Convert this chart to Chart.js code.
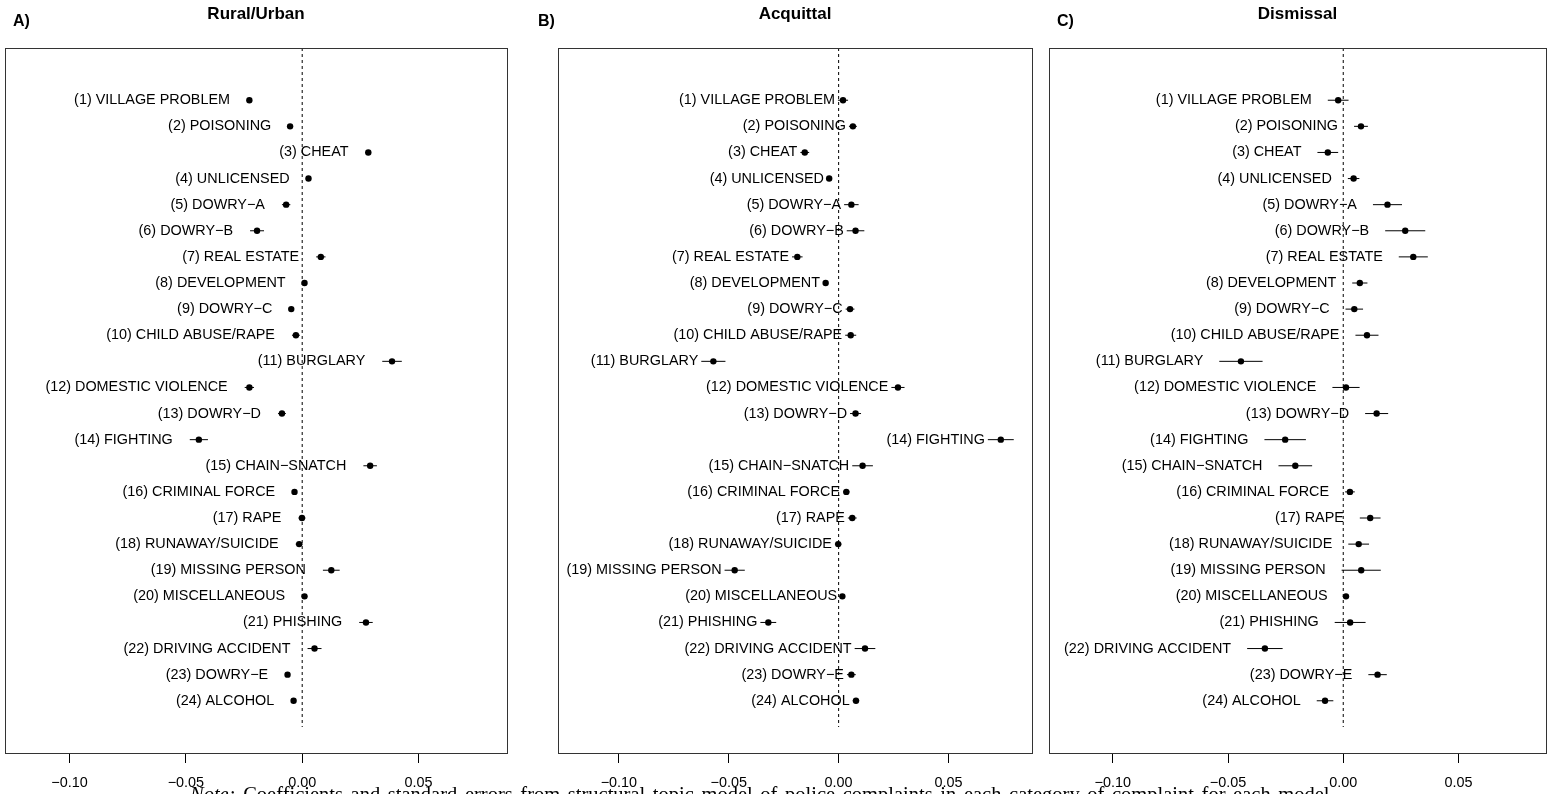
<!DOCTYPE html>
<html>
<head>
<meta charset="utf-8">
<script src="https://cdn.jsdelivr.net/npm/chart.js@4"></script>
<style>
    html, body { margin: 0; padding: 0; background: #fff; }
    body { width: 1557px; height: 794px; overflow: hidden; position: relative; }
    canvas { position: absolute; top: 0; }
    #note {
        position: absolute; left: 190px; top: 783px; white-space: nowrap;
        font-family: 'Liberation Serif', 'DejaVu Serif', serif; font-size: 20.5px; color: #000;
        word-spacing: 2.5px;
    }
</style>
</head>
<body>
<canvas id="panel-a" width="519" height="794" style="left:0px"></canvas>
<canvas id="panel-b" width="519" height="794" style="left:519px"></canvas>
<canvas id="panel-c" width="519" height="794" style="left:1038px"></canvas>
<div id="note"><i>Note:</i> Coefficients and standard errors from structural topic model of police complaints in each category of complaint for each model.</div>
<script>
// データ
const categories = [
    '(1) VILLAGE PROBLEM', '(2) POISONING', '(3) CHEAT', '(4) UNLICENSED',
    '(5) DOWRY\u2212A', '(6) DOWRY\u2212B', '(7) REAL ESTATE', '(8) DEVELOPMENT',
    '(9) DOWRY\u2212C', '(10) CHILD ABUSE/RAPE', '(11) BURGLARY', '(12) DOMESTIC VIOLENCE',
    '(13) DOWRY\u2212D', '(14) FIGHTING', '(15) CHAIN\u2212SNATCH', '(16) CRIMINAL FORCE',
    '(17) RAPE', '(18) RUNAWAY/SUICIDE', '(19) MISSING PERSON', '(20) MISCELLANEOUS',
    '(21) PHISHING', '(22) DRIVING ACCIDENT', '(23) DOWRY\u2212E', '(24) ALCOHOL'
];

// A) Rural/Urban
const ruralCoef = [-0.0227, -0.0052, 0.0284, 0.0027, -0.0069, -0.0194, 0.0080, 0.0010, -0.0047, -0.0027, 0.0386, -0.0227,
    -0.0087, -0.0444, 0.0292, -0.0033, -0.0001, -0.0013, 0.0125, 0.0010, 0.0274, 0.0053, -0.0063, -0.0037];
const ruralErr = [0.0010, 0.0008, 0.0012, 0.0008, 0.0018, 0.0030, 0.0020, 0.0008, 0.0008, 0.0017, 0.0042, 0.0020,
    0.0017, 0.0039, 0.0029, 0.0010, 0.0015, 0.0015, 0.0036, 0.0010, 0.0029, 0.0030, 0.0010, 0.0010];

// B) Acquittal
const acquittalCoef = [0.0020, 0.0065, -0.0154, -0.0043, 0.0058, 0.0077, -0.0188, -0.0059, 0.0052, 0.0055, -0.0570, 0.0270,
    0.0077, 0.0738, 0.0109, 0.0035, 0.0062, -0.0002, -0.0473, 0.0017, -0.0320, 0.0120, 0.0058, 0.0079];
const acquittalErr = [0.0023, 0.0018, 0.0020, 0.0010, 0.0033, 0.0040, 0.0024, 0.0012, 0.0020, 0.0025, 0.0055, 0.0030,
    0.0025, 0.0059, 0.0047, 0.0015, 0.0020, 0.0015, 0.0046, 0.0010, 0.0036, 0.0047, 0.0020, 0.0015];

// C) Dismissal
const dismissalCoef = [-0.0022, 0.0077, -0.0067, 0.0045, 0.0192, 0.0269, 0.0304, 0.0072, 0.0048, 0.0103, -0.0444, 0.0012,
    0.0145, -0.0252, -0.0208, 0.0029, 0.0117, 0.0067, 0.0078, 0.0012, 0.0030, -0.0340, 0.0149, -0.0079];
const dismissalErr = [0.0045, 0.0030, 0.0045, 0.0025, 0.0063, 0.0087, 0.0063, 0.0033, 0.0038, 0.0050, 0.0094, 0.0059,
    0.0050, 0.0090, 0.0073, 0.0021, 0.0045, 0.0045, 0.0085, 0.0010, 0.0067, 0.0077, 0.0040, 0.0036];

const xTicks = [-0.10, -0.05, 0.00, 0.05];
const xRange = [-0.1277, 0.088];
const yRange = [-1, 26];

const FONT = "'Liberation Sans', Arial, Helvetica, sans-serif";

// 初期化処理
document.addEventListener('DOMContentLoaded', () => {
    createPanel('panel-a', 'A)', 'Rural/Urban', ruralCoef, ruralErr, { left: 5, right: 12, letterX: 13, gap: 17 });
    createPanel('panel-b', 'B)', 'Acquittal', acquittalCoef, acquittalErr, { left: 39, right: 6, letterX: 19, gap: 3 });
    createPanel('panel-c', 'C)', 'Dismissal', dismissalCoef, dismissalErr, { left: 11, right: 11, letterX: 19, gap: 16 });
});

// 目盛りラベル (Rと同じマイナス記号)
function formatTick(value) {
    const s = Math.abs(value).toFixed(2);
    return value < -1e-9 ? '\u2212' + s : s;
}

// パネルの作成
function createPanel(canvasId, letter, title, coefs, errs, layout) {
    const points = coefs.map((c, i) => ({ x: c, y: i + 1 }));

    // エラーバー (nullで区切る)
    const bars = [];
    coefs.forEach((c, i) => {
        bars.push({ x: c - errs[i], y: i + 1 });
        bars.push({ x: c + errs[i], y: i + 1 });
        bars.push({ x: null, y: null });
    });

    // 枠・タイトル・ラベル
    const panelPlugin = {
        id: 'panelDecor',
        afterDatasetsDraw(chart) {
            const ctx = chart.ctx;
            const xs = chart.scales.x;
            const ys = chart.scales.y;
            ctx.save();
            ctx.fillStyle = '#000';
            ctx.font = '14.4px ' + FONT;
            ctx.textAlign = 'right';
            ctx.textBaseline = 'middle';
            categories.forEach((name, i) => {
                const px = xs.getPixelForValue(coefs[i] - errs[i]) - layout.gap;
                const py = ys.getPixelForValue(i + 1);
                ctx.fillText(name, px, py);
            });
            ctx.restore();
        },
        afterDraw(chart) {
            const ctx = chart.ctx;
            const area = chart.chartArea;
            ctx.save();
            ctx.strokeStyle = '#333';
            ctx.lineWidth = 1;
            ctx.strokeRect(Math.round(area.left) + 0.5, Math.round(area.top) + 0.5,
                Math.round(area.right - area.left), Math.round(area.bottom - area.top));
            ctx.fillStyle = '#000';
            ctx.textBaseline = 'middle';
            ctx.font = 'bold 16px ' + FONT;
            ctx.textAlign = 'left';
            ctx.fillText(letter, layout.letterX, 22);
            ctx.font = 'bold 17px ' + FONT;
            ctx.textAlign = 'center';
            ctx.fillText(title, (area.left + area.right) / 2, 14);
            ctx.restore();
        }
    };

    const ctx = document.getElementById(canvasId).getContext('2d');
    return new Chart(ctx, {
        type: 'scatter',
        data: {
            datasets: [{
                label: 'zero',
                data: [{ x: 0, y: yRange[0] }, { x: 0, y: 25 }],
                showLine: true,
                borderColor: '#000',
                borderWidth: 1,
                borderDash: [3, 3],
                pointRadius: 0
            }, {
                label: 'ci',
                data: bars,
                showLine: true,
                spanGaps: false,
                borderColor: '#000',
                borderWidth: 1,
                pointRadius: 0
            }, {
                label: 'coef',
                data: points,
                pointRadius: 3.2,
                pointBackgroundColor: '#000',
                pointBorderWidth: 0
            }]
        },
        options: {
            responsive: false,
            animation: false,
            devicePixelRatio: 1,
            layout: { padding: { left: layout.left, right: layout.right, top: 48, bottom: 0 } },
            plugins: {
                legend: { display: false },
                tooltip: { enabled: false }
            },
            scales: {
                x: {
                    type: 'linear',
                    min: xRange[0],
                    max: xRange[1],
                    afterBuildTicks: function(axis) {
                        axis.ticks = xTicks.map(v => ({ value: v }));
                    },
                    afterFit: function(axis) {
                        axis.height = 41;
                    },
                    ticks: {
                        callback: formatTick,
                        color: '#000',
                        font: { family: FONT, size: 14.4 },
                        padding: 11,
                        maxRotation: 0,
                        autoSkip: false
                    },
                    grid: {
                        drawOnChartArea: false,
                        drawTicks: true,
                        tickLength: 10,
                        tickColor: '#000',
                        color: '#000'
                    },
                    border: { display: true, color: '#333' }
                },
                y: {
                    type: 'linear',
                    min: yRange[0],
                    max: yRange[1],
                    reverse: true,
                    display: false
                }
            }
        },
        plugins: [panelPlugin]
    });
}
</script>
</body>
</html>
